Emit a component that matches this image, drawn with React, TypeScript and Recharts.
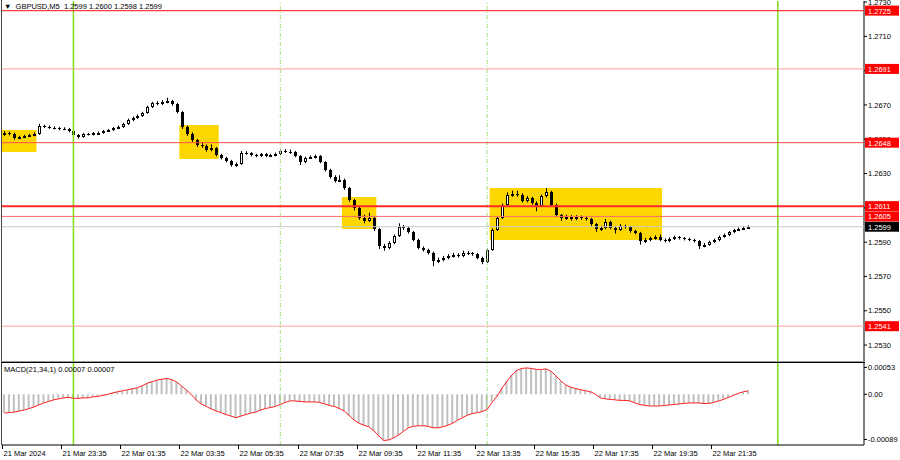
import React from 'react';
import {
  ComposedChart,
  Bar,
  Line,
  XAxis,
  YAxis,
  ReferenceLine,
  ReferenceArea,
} from 'recharts';

// GBPUSD M5, 22 Mar 2024, shown as 10 minute candles
const FIRST_OPEN = 1.2653;

const CLOSES = [
  1.26536, 1.26531, 1.26507, 1.26513, 1.26519, 1.26525, 1.26531, 1.26577, 1.26572, 1.26566,
  1.26566, 1.2656, 1.2656, 1.26548, 1.26525, 1.26513, 1.26531, 1.26528, 1.26536, 1.26538,
  1.26548, 1.26554, 1.26566, 1.26572, 1.26589, 1.26612, 1.26624, 1.26636, 1.26653, 1.26688,
  1.26711, 1.26706, 1.26717, 1.26723, 1.26706, 1.26659, 1.26572, 1.26531, 1.26496, 1.26466,
  1.2646, 1.26437, 1.26449, 1.26408, 1.26391, 1.26373, 1.2635, 1.26356, 1.2642, 1.26418,
  1.26408, 1.26402, 1.26414, 1.26402, 1.26408, 1.26414, 1.26432, 1.26428, 1.26426, 1.26402,
  1.26367, 1.26391, 1.26396, 1.26402, 1.26367, 1.26321, 1.2628, 1.26257, 1.26263, 1.26216,
  1.26146, 1.26099, 1.26041, 1.26024, 1.26041, 1.25977, 1.25878, 1.25866, 1.25895, 1.25936,
  1.25989, 1.25983, 1.25959, 1.25913, 1.25866, 1.25854, 1.25837, 1.2579, 1.25796, 1.25808,
  1.25819, 1.25825, 1.25819, 1.25837, 1.25834, 1.25831, 1.25808, 1.25784, 1.25854, 1.25971,
  1.26041, 1.26117, 1.26175, 1.26181, 1.26175, 1.2614, 1.26158, 1.26128, 1.26111, 1.26169,
  1.26193, 1.26117, 1.26058, 1.26041, 1.26047, 1.26035, 1.26047, 1.26041, 1.26035, 1.26006,
  1.25977, 1.25983, 1.26018, 1.25983, 1.25971, 1.25994, 1.25989, 1.25965, 1.25954, 1.25907,
  1.25913, 1.25924, 1.2593, 1.25913, 1.25907, 1.25919, 1.2593, 1.25924, 1.25919, 1.25913,
  1.25907, 1.25878, 1.25884, 1.25901, 1.25913, 1.2593, 1.25942, 1.25959, 1.25971, 1.25977,
  1.25983, 1.2599,
];

const HIGHS = [
  1.26548, 1.26545, 1.26538, 1.2652, 1.26526, 1.26532, 1.2654, 1.2659, 1.26585, 1.2658,
  1.26575, 1.26572, 1.2657, 1.26566, 1.26552, 1.2653, 1.26536, 1.26537, 1.26542, 1.26545,
  1.26554, 1.2656, 1.26572, 1.2658, 1.26596, 1.2662, 1.26632, 1.26645, 1.2666, 1.26695,
  1.26718, 1.26722, 1.26728, 1.26742, 1.2673, 1.26712, 1.26664, 1.2658, 1.2654, 1.26502,
  1.2648, 1.2647, 1.2647, 1.26455, 1.26415, 1.26398, 1.2638, 1.26365, 1.26432, 1.2643,
  1.26425, 1.26415, 1.2642, 1.2642, 1.26415, 1.26422, 1.2644, 1.26442, 1.2644, 1.26432,
  1.26408, 1.26398, 1.26405, 1.2641, 1.26408, 1.26372, 1.26328, 1.2629, 1.2629, 1.2627,
  1.26222, 1.26152, 1.26105, 1.2606, 1.26072, 1.2605, 1.25982, 1.2589, 1.25905, 1.25945,
  1.2601, 1.26, 1.2599, 1.25965, 1.2592, 1.25875, 1.25862, 1.25845, 1.2581, 1.2582,
  1.2583, 1.25838, 1.25835, 1.2585, 1.25848, 1.25842, 1.25838, 1.25815, 1.25862, 1.2598,
  1.2605, 1.26125, 1.2619, 1.262, 1.262, 1.26185, 1.2617, 1.26165, 1.26138, 1.26178,
  1.26215, 1.262, 1.26125, 1.26065, 1.2606, 1.26058, 1.26058, 1.26055, 1.2605, 1.26042,
  1.26012, 1.25995, 1.26035, 1.26025, 1.25992, 1.26005, 1.26002, 1.25995, 1.25972, 1.2596,
  1.25925, 1.25932, 1.2594, 1.25945, 1.25922, 1.25928, 1.25938, 1.25936, 1.2593, 1.25925,
  1.2592, 1.25912, 1.25895, 1.25908, 1.2592, 1.25938, 1.2595, 1.25965, 1.25978, 1.25985,
  1.25992, 1.25998,
];

const LOWS = [
  1.2652, 1.26522, 1.26498, 1.265, 1.26506, 1.26512, 1.26518, 1.26525, 1.26565, 1.2656,
  1.26558, 1.26552, 1.26553, 1.2654, 1.26518, 1.26505, 1.26508, 1.26522, 1.26522, 1.2653,
  1.26532, 1.26542, 1.26548, 1.2656, 1.26566, 1.26583, 1.26605, 1.26618, 1.2663, 1.26648,
  1.26682, 1.26698, 1.267, 1.2671, 1.26695, 1.2665, 1.2656, 1.2652, 1.26485, 1.26455,
  1.2645, 1.26428, 1.2643, 1.264, 1.26382, 1.26365, 1.2634, 1.26338, 1.2635, 1.2641,
  1.264, 1.26395, 1.26396, 1.26395, 1.26396, 1.264, 1.26408, 1.2642, 1.26415, 1.26395,
  1.2635, 1.2636, 1.26385, 1.26388, 1.2636, 1.26312, 1.2627, 1.26248, 1.2625, 1.26205,
  1.26135, 1.26085, 1.2603, 1.2601, 1.26018, 1.25965, 1.2586, 1.2585, 1.25858, 1.25888,
  1.2593, 1.2597, 1.2595, 1.25905, 1.25858, 1.25845, 1.25828, 1.2576, 1.25778, 1.25788,
  1.258, 1.2581, 1.2581, 1.25812, 1.25825, 1.2582, 1.258, 1.25772, 1.25778, 1.2585,
  1.25965, 1.26035, 1.2611, 1.26165, 1.26165, 1.2613, 1.26132, 1.26118, 1.2608, 1.26105,
  1.2616, 1.26105, 1.26045, 1.26025, 1.2603, 1.26025, 1.26028, 1.2603, 1.26025, 1.25995,
  1.2596, 1.25965, 1.25975, 1.25975, 1.2595, 1.25965, 1.25978, 1.25955, 1.25945, 1.25885,
  1.25895, 1.25905, 1.25915, 1.25905, 1.25898, 1.259, 1.25912, 1.25915, 1.2591, 1.25905,
  1.25898, 1.2586, 1.2587, 1.25878, 1.25895, 1.25905, 1.25925, 1.25935, 1.25952, 1.25965,
  1.2597, 1.25978,
];

// MACD(21,34,1) main value (signal equals it with period 1)
const MACD = [
  -0.00037, -0.00036, -0.00035, -0.00033, -0.00031, -0.00028, -0.00025, -0.00021, -0.00017, -0.00014,
  -0.00011, -0.00009, -0.00007, -0.00006, -0.00008, -0.00008, -0.00007, -0.00007, -0.00005, -0.00004,
  -0.00002, 0, 0.00003, 0.00005, 0.00007, 0.00009, 0.00011, 0.00013, 0.00017, 0.00022,
  0.00025, 0.00028, 0.0003, 0.00031, 0.00029, 0.00024, 0.00016, 0.00008, -0.00001, -0.00012,
  -0.00019, -0.00024, -0.00029, -0.00033, -0.00036, -0.0004, -0.00043, -0.00046, -0.00043, -0.0004,
  -0.00037, -0.00035, -0.00031, -0.00028, -0.00026, -0.00024, -0.0002, -0.00016, -0.00013, -0.00013,
  -0.00014, -0.00015, -0.00015, -0.00015, -0.00016, -0.00019, -0.00022, -0.00024, -0.00028, -0.00033,
  -0.00042, -0.00051, -0.00057, -0.00061, -0.00064, -0.00072, -0.00082, -0.00091, -0.0009, -0.00086,
  -0.0008, -0.00073, -0.00066, -0.00063, -0.00062, -0.00062, -0.00063, -0.00066, -0.00066, -0.00064,
  -0.00061, -0.00057, -0.00051, -0.00046, -0.00041, -0.00038, -0.00036, -0.00034, -0.0003, -0.00016,
  -0.00004, 0.00012, 0.00026, 0.00038, 0.00047, 0.00051, 0.00052, 0.00051, 0.00049, 0.00049,
  0.0005, 0.00045, 0.00036, 0.00026, 0.00018, 0.00014, 0.00011, 0.00009, 0.00007, 0.00005,
  0, -0.00007, -0.00009, -0.0001, -0.00011, -0.00012, -0.00012, -0.00013, -0.00017, -0.0002,
  -0.00022, -0.00023, -0.00023, -0.00023, -0.00022, -0.00021, -0.0002, -0.00019, -0.00018, -0.00017,
  -0.00017, -0.00017, -0.00018, -0.00018, -0.00016, -0.00013, -0.0001, -0.00006, -0.00002, 0.00002,
  0.00005, 0.00007,
];

const SLOT_COUNT = 175;
const TICK_SLOTS = [0, 12, 24, 36, 48, 60, 72, 84, 96, 108, 120, 132, 144];
const TICK_LABELS = [
  '21 Mar 2024', '21 Mar 23:35', '22 Mar 01:35', '22 Mar 03:35', '22 Mar 05:35',
  '22 Mar 07:35', '22 Mar 09:35', '22 Mar 11:35', '22 Mar 13:35', '22 Mar 15:35',
  '22 Mar 17:35', '22 Mar 19:35', '22 Mar 21:35',
];

const PRICE_TICKS = [1.253, 1.255, 1.257, 1.259, 1.261, 1.263, 1.265, 1.267, 1.269, 1.271, 1.273];
const MACD_TICKS = [0.00053, 0, -0.00089];
const PRICE_DOMAIN = [1.25207, 1.27306];

const LEVELS = [1.2725, 1.2691, 1.2648, 1.2611, 1.2605, 1.2541];
const LEVEL_COLORS = ['#ff3c3c', '#ff9c9c', '#ff4c4c', '#ff2a2a', '#ff6a6a', '#ffa4a4'];
const LEVEL_WIDTHS = [1.2, 1, 1, 2, 1, 1];
const BID = 1.2599;

const DAY_SLOTS = [14, 157];
const SESSION_SLOTS = [56, 98];

const BOX_FROM = [0, 36, 69, 99];
const BOX_TO = [6, 43, 75, 133];
const BOX_TOP = [1.26554, 1.26583, 1.26163, 1.26216];
const BOX_BOTTOM = [1.26426, 1.26385, 1.25977, 1.25913];

const rows = Array.from({ length: SLOT_COUNT }, (_, i) => {
  const has = i < CLOSES.length;
  return {
    idx: i,
    open: has ? (i === 0 ? FIRST_OPEN : CLOSES[i - 1]) : null,
    close: has ? CLOSES[i] : null,
    high: has ? HIGHS[i] : null,
    low: has ? LOWS[i] : null,
    range: has ? [LOWS[i], HIGHS[i]] : null,
    macd: has ? MACD[i] : null,
  };
});

const FONT = '"Liberation Sans", Arial, sans-serif';
const BAND = 862 / SLOT_COUNT;
const MAIN_MARGIN = { top: 1, right: 0, bottom: 1, left: 2 };

const Candle = (props: any) => {
  const { x, y, width, height, payload } = props;
  if (!payload || payload.range == null || height == null) return <g />;
  const { open, close, high, low } = payload;
  const top = Math.min(y, y + height);
  const span = Math.abs(height);
  const k = span / (high - low);
  const yo = top + (high - open) * k;
  const yc = top + (high - close) * k;
  const cx = Math.round(x + width / 2);
  const bodyTop = Math.round(Math.min(yo, yc));
  const bodyH = Math.max(Math.round(Math.abs(yc - yo)), 1);
  const bull = close > open;
  return (
    <g>
      <line x1={cx + 0.5} x2={cx + 0.5} y1={top} y2={top + span} stroke="#000" strokeWidth={1} />
      {bull ? (
        <rect x={cx - 0.5} y={bodyTop + 0.5} width={2} height={Math.max(bodyH - 1, 1)} fill="#fff" stroke="#000" strokeWidth={1} />
      ) : (
        <rect x={cx - 1} y={bodyTop} width={3} height={bodyH} fill="#000" />
      )}
    </g>
  );
};

const PriceTag = (props: any) => {
  const { viewBox, text, bg } = props;
  if (!viewBox) return null;
  const x = viewBox.x + viewBox.width + 1;
  const y = viewBox.y;
  return (
    <g>
      <rect x={x} y={y - 5} width={34} height={10} fill={bg} />
      <text x={x + 3} y={y + 3} fontSize={7.5} fill="#fff" fontFamily={FONT}>
        {text}
      </text>
    </g>
  );
};

const TimeTick = (props: any) => {
  const { x, y, payload } = props;
  const k = TICK_SLOTS.indexOf(payload.value);
  if (k < 0) return <g />;
  const left = Math.round(x - BAND / 2) + 0.5;
  return (
    <g>
      <line x1={left} x2={left} y1={y} y2={y + 4} stroke="#000" />
      <text x={left + 1} y={y + 10.5} fontSize={7.5} fill="#000" fontFamily={FONT}>
        {TICK_LABELS[k]}
      </text>
    </g>
  );
};

const greenLines = () => [
  ...DAY_SLOTS.map((s) => (
    <ReferenceLine key={`d${s}`} x={s} stroke="#84e01e" strokeWidth={1.6} />
  )),
  ...SESSION_SLOTS.map((s) => (
    <ReferenceLine key={`s${s}`} x={s} stroke="#a6e27a" strokeWidth={1} strokeDasharray="4 2 1 2" />
  )),
];

export default function App() {
  return (
    <div style={{ position: 'absolute', left: 0, top: 0, width: 900, height: 460, background: '#fff', fontFamily: FONT }}>
      {/* price panel */}
      <div style={{ position: 'absolute', left: 0, top: 0 }}>
        <ComposedChart width={900} height={362} data={rows} margin={MAIN_MARGIN}>
          <XAxis dataKey="idx" type="category" hide />
          <YAxis
            orientation="right"
            type="number"
            width={36}
            domain={PRICE_DOMAIN}
            allowDataOverflow
            ticks={PRICE_TICKS}
            interval={0}
            tickFormatter={(v: number) => v.toFixed(4)}
            tick={{ fontSize: 7.5, fill: '#000' }}
            tickSize={3}
            tickMargin={1}
            axisLine={{ stroke: '#000' }}
            tickLine={{ stroke: '#000' }}
          />
          {BOX_FROM.map((f, i) => (
            <ReferenceArea
              key={`box${i}`}
              x1={f === 0 ? undefined : f}
              x2={BOX_TO[i]}
              y1={BOX_BOTTOM[i]}
              y2={BOX_TOP[i]}
              fill="#ffd700"
              fillOpacity={1}
              stroke="none"
              ifOverflow="extendDomain"
            />
          ))}
          {greenLines()}
          <Bar dataKey="range" barSize={3} shape={<Candle />} isAnimationActive={false} />
        </ComposedChart>
      </div>
      {/* level lines and price tags, on top of the axis labels */}
      <div style={{ position: 'absolute', left: 0, top: 0 }}>
        <ComposedChart width={900} height={362} data={rows} margin={MAIN_MARGIN}>
          <XAxis dataKey="idx" type="category" hide />
          <YAxis
            orientation="right"
            type="number"
            width={36}
            domain={PRICE_DOMAIN}
            allowDataOverflow
            tick={false}
            tickLine={false}
            axisLine={false}
          />
          <ReferenceLine
            y={BID}
            stroke="#c8c8c8"
            strokeWidth={1}
            label={<PriceTag text={BID.toFixed(4)} bg="#000" />}
          />
          {LEVELS.map((lv, i) => (
            <ReferenceLine
              key={`lv${lv}`}
              y={lv}
              stroke={LEVEL_COLORS[i]}
              strokeWidth={LEVEL_WIDTHS[i]}
              label={<PriceTag text={lv.toFixed(4)} bg="#ff0000" />}
            />
          ))}
        </ComposedChart>
      </div>
      {/* MACD panel */}
      <div style={{ position: 'absolute', left: 0, top: 362 }}>
        <ComposedChart width={900} height={98} data={rows} margin={{ top: 1, right: 0, bottom: 0, left: 2 }}>
          <XAxis
            dataKey="idx"
            type="category"
            height={15}
            interval={0}
            tickSize={0}
            tickMargin={0}
            tickLine={false}
            axisLine={{ stroke: '#000' }}
            tick={<TimeTick />}
          />
          <YAxis
            orientation="right"
            type="number"
            width={36}
            domain={[-0.000999, 0.000617]}
            allowDataOverflow
            ticks={MACD_TICKS}
            interval={0}
            tickFormatter={(v: number) => (v === 0 ? '0.00' : v.toFixed(5))}
            tick={{ fontSize: 7.5, fill: '#000' }}
            tickSize={3}
            tickMargin={1}
            axisLine={{ stroke: '#000' }}
            tickLine={{ stroke: '#000' }}
          />
          {greenLines()}
          <Bar dataKey="macd" barSize={2} fill="#c0c0c0" isAnimationActive={false} />
          <Line dataKey="macd" type="linear" stroke="#ff2020" strokeWidth={1} dot={false} isAnimationActive={false} />
        </ComposedChart>
      </div>
      {/* frame lines */}
      <div style={{ position: 'absolute', left: 1, top: 0, width: 1, height: 445, background: '#444' }} />
      <div style={{ position: 'absolute', left: 1, top: 361, width: 864, height: 1, background: '#999' }} />
      <div style={{ position: 'absolute', left: 1, top: 362, width: 864, height: 1, background: '#000' }} />
      <div style={{ position: 'absolute', left: 4, top: 2, fontSize: 7.5, color: '#000', lineHeight: '10px', whiteSpace: 'pre' }}>
        {'▼  GBPUSD,M5  1.2599 1.2600 1.2598 1.2599'}
      </div>
      <div style={{ position: 'absolute', left: 4, top: 365, fontSize: 7.5, color: '#000', lineHeight: '10px', whiteSpace: 'pre' }}>
        {'MACD(21,34,1) 0.00007 0.00007'}
      </div>
    </div>
  );
}
